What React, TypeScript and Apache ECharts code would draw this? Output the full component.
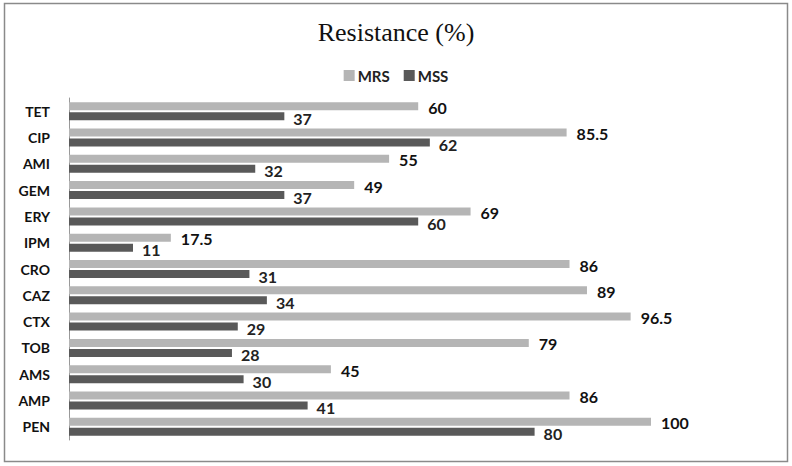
import React, { useEffect, useRef } from "react";
import * as echarts from "echarts";

const categories = ["TET", "CIP", "AMI", "GEM", "ERY", "IPM", "CRO", "CAZ", "CTX", "TOB", "AMS", "AMP", "PEN"];
const mrsValues = [60, 85.5, 55, 49, 69, 17.5, 86, 89, 96.5, 79, 45, 86, 100];
const mssValues = [37, 62, 32, 37, 60, 11, 31, 34, 29, 28, 30, 41, 80];

const FONT = "Lato, 'Noto Sans', sans-serif";

export default function App() {
  const ref = useRef<HTMLDivElement>(null);
  useEffect(() => {
    document.body.style.margin = "0";
    const chart = echarts.init(ref.current!, null, { renderer: "svg" });
    chart.setOption({
      animation: false,
      backgroundColor: "#ffffff",
      title: {
        text: "Resistance (%)",
        left: "center",
        top: 14,
        textStyle: { fontFamily: "'Liberation Serif', serif", fontSize: 26, fontWeight: "normal", color: "#111" },
      },
      legend: {
        top: 63,
        left: "center",
        itemWidth: 11,
        itemHeight: 11,
        itemGap: 14,
        icon: "rect",
        textStyle: { fontFamily: FONT, fontSize: 15, fontWeight: "bold", color: "#222", padding: [0, 0, 0, -2] },
        data: ["MRS", "MSS"],
      },
      graphic: [
        {
          type: "rect",
          shape: { x: 4.5, y: 3.5, width: 783, height: 458 },
          style: { fill: "none", stroke: "#8a8a8a", lineWidth: 1.5 },
          silent: true,
        },
      ],
      grid: { left: 69, right: 141, top: 98, bottom: 26, containLabel: false },
      xAxis: {
        type: "value",
        min: 0,
        max: 100,
        show: false,
      },
      yAxis: {
        type: "category",
        data: categories,
        inverse: true,
        axisLine: { show: true, lineStyle: { color: "#999", width: 1 } },
        axisTick: { show: false },
        axisLabel: { fontFamily: FONT, fontSize: 14, fontWeight: "bold", color: "#111", margin: 19 },
      },
      series: [
        {
          name: "MRS",
          type: "bar",
          data: mrsValues,
          barWidth: 8,
          barGap: "25%",
          itemStyle: { color: "#b5b5b5" },
          label: {
            show: true,
            position: "right",
            distance: 10,
            offset: [0, 1],
            fontFamily: FONT,
            fontSize: 16,
            fontWeight: "bold",
            color: "#111",
          },
        },
        {
          name: "MSS",
          type: "bar",
          data: mssValues,
          barWidth: 8,
          itemStyle: { color: "#595959" },
          label: {
            show: true,
            position: "right",
            distance: 9,
            offset: [0, 2],
            fontFamily: FONT,
            fontSize: 16,
            fontWeight: "bold",
            color: "#222",
          },
        },
      ],
    });
    return () => chart.dispose();
  }, []);
  return <div ref={ref} style={{ position: "absolute", left: 0, top: 0, width: 792, height: 466 }} />;
}
